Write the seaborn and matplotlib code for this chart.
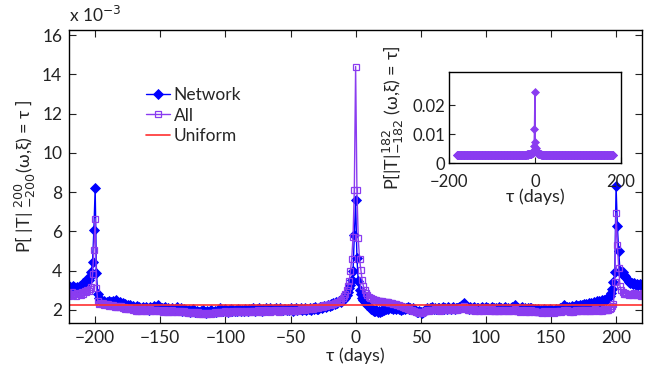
import numpy as np
import pandas as pd
import matplotlib
matplotlib.use("Agg")
import matplotlib.pyplot as plt
import seaborn as sns

# Lag range (days) of the main panel and of the inset
tau_start, tau_end = -222, 222
inset_start, inset_end = -182, 182

# P[|T| = tau] in units of 1e-3, one value per day from tau_start to tau_end
network = [
    3.18, 3.12, 3.22, 3.15, 3.08, 3.20, 3.14, 3.05, 3.18, 3.10,
    3.22, 3.15, 3.28, 3.35, 3.30, 3.42, 3.55, 3.50, 3.68, 3.92,
    4.45, 6.05, 8.20, 3.85, 2.80, 2.62, 2.50, 2.45, 2.38, 2.42,
    2.35, 2.40, 2.32, 2.45, 2.38, 2.30, 2.42, 2.36, 2.48, 2.40,
    2.33, 2.38, 2.28, 2.35, 2.25, 2.30, 2.18, 2.24, 2.15, 2.22,
    2.10, 2.18, 2.05, 2.12, 2.20, 2.08, 2.15, 2.02, 2.10, 2.16,
    2.05, 2.12, 2.08, 2.00, 2.14, 2.06, 2.10, 2.18, 2.03, 2.09,
    2.25, 2.12, 2.04, 2.10, 2.00, 2.08, 2.13, 2.02, 2.07, 1.98,
    2.05, 2.11, 1.99, 2.06, 2.02, 2.12, 1.97, 2.04, 2.08, 1.96,
    2.03, 1.95, 2.00, 1.92, 1.98, 1.90, 1.96, 2.02, 1.93, 1.88,
    1.95, 1.90, 1.86, 1.93, 1.88, 1.97, 1.91, 1.85, 1.94, 1.89,
    1.92, 1.98, 1.90, 1.87, 1.95, 1.91, 2.00, 1.93, 2.08, 1.96,
    1.92, 1.99, 2.05, 1.94, 1.90, 1.97, 2.02, 1.95, 1.99, 1.93,
    2.00, 1.95, 2.04, 1.98, 1.93, 2.01, 1.96, 2.06, 1.99, 1.94,
    2.02, 1.97, 2.05, 2.10, 2.00, 1.95, 2.03, 1.98, 2.07, 2.01,
    1.96, 2.04, 2.00, 2.08, 1.97, 2.03, 2.09, 2.01, 1.98, 2.05,
    2.02, 2.07, 1.99, 2.04, 2.10, 2.01, 1.97, 2.06, 2.03, 1.98,
    2.05, 2.00, 2.08, 2.03, 1.96, 2.04, 2.09, 1.99, 2.05, 2.02,
    2.07, 1.98, 2.04, 2.10, 2.01, 2.06, 2.03, 2.11, 2.00, 2.08,
    2.04, 2.12, 2.06, 2.02, 2.10, 2.15, 2.08, 2.14, 2.20, 2.12,
    2.18, 2.24, 2.20, 2.28, 2.25, 2.32, 2.30, 2.38, 2.35, 2.42,
    2.45, 2.40, 2.50, 2.55, 2.62, 2.75, 2.92, 3.10, 3.28, 3.52,
    3.95, 5.80, 7.60, 4.65, 3.45, 3.00, 2.80, 2.62, 2.50, 2.40,
    2.32, 2.25, 2.20, 2.12, 2.05, 2.00, 1.95, 1.92, 1.98, 1.90,
    1.94, 1.88, 1.96, 2.02, 1.98, 2.05, 2.10, 2.03, 2.15, 2.08,
    2.12, 2.06, 2.10, 2.04, 2.12, 2.02, 2.08, 2.00, 2.06, 2.11,
    2.03, 2.08, 2.14, 2.05, 2.09, 2.02, 2.07, 1.98, 1.94, 1.90,
    1.86, 1.92, 1.88, 1.85, 1.91, 1.96, 2.02, 2.08, 2.04, 2.10,
    2.06, 2.12, 2.03, 2.09, 2.05, 2.11, 2.07, 2.02, 2.08, 2.13,
    2.05, 2.10, 2.04, 2.12, 2.08, 2.03, 2.09, 2.14, 2.06, 2.11,
    2.07, 2.13, 2.10, 2.18, 2.22, 2.32, 2.25, 2.15, 2.10, 2.06,
    2.12, 2.05, 2.09, 2.14, 2.04, 2.10, 2.07, 2.02, 2.08, 2.12,
    2.05, 2.10, 2.15, 2.06, 2.11, 2.04, 2.09, 2.13, 2.07, 2.03,
    2.10, 2.06, 2.12, 2.05, 2.09, 2.03, 2.08, 2.14, 2.06, 2.10,
    2.04, 2.09, 2.15, 2.07, 2.22, 2.11, 2.05, 2.09, 2.03, 2.08,
    2.12, 2.06, 2.10, 2.04, 2.08, 2.02, 2.07, 2.11, 2.05, 2.00,
    2.04, 1.98, 2.02, 1.96, 2.01, 1.95, 1.99, 2.03, 1.97, 1.93,
    1.98, 2.02, 1.95, 2.00, 1.94, 1.99, 2.05, 1.97, 2.02, 2.08,
    2.03, 2.10, 2.22, 2.06, 2.12, 2.08, 2.15, 2.10, 2.18, 2.12,
    2.16, 2.22, 2.14, 2.20, 2.26, 2.18, 2.24, 2.30, 2.22, 2.28,
    2.25, 2.32, 2.28, 2.35, 2.30, 2.38, 2.34, 2.42, 2.38, 2.45,
    2.40, 2.48, 2.45, 2.52, 2.48, 2.58, 2.62, 2.70, 2.85, 3.05,
    3.40, 3.90, 8.30, 6.25, 5.00, 4.00, 3.85, 3.92, 3.78, 3.70,
    3.62, 3.50, 3.42, 3.35, 3.38, 3.30, 3.36, 3.28, 3.33, 3.25,
    3.30, 3.26, 3.32, 3.24, 3.28,
]

all_events = [
    2.78, 2.85, 2.72, 2.80, 2.88, 2.75, 2.82, 2.70, 2.86, 2.78,
    2.84, 2.76, 2.90, 2.82, 2.95, 2.88, 3.00, 2.94, 3.08, 3.15,
    3.80, 5.05, 6.65, 3.10, 2.45, 2.30, 2.35, 2.28, 2.32, 2.25,
    2.30, 2.22, 2.27, 2.20, 2.25, 2.18, 2.23, 2.16, 2.21, 2.14,
    2.19, 2.12, 2.17, 2.08, 2.14, 2.06, 2.11, 2.04, 2.09, 2.02,
    2.06, 1.98, 2.04, 1.96, 2.02, 1.95, 2.00, 1.94, 1.99, 2.03,
    1.96, 2.01, 1.93, 1.98, 2.02, 1.95, 1.99, 1.92, 1.97, 2.00,
    1.94, 1.99, 1.92, 1.96, 1.90, 1.95, 1.98, 1.91, 1.96, 1.89,
    1.94, 1.97, 1.90, 1.95, 1.88, 1.93, 1.96, 1.89, 1.94, 1.87,
    1.92, 1.86, 1.90, 1.84, 1.89, 1.83, 1.88, 1.85, 1.81, 1.86,
    1.82, 1.87, 1.80, 1.84, 1.79, 1.83, 1.78, 1.82, 1.76, 1.81,
    1.84, 1.79, 1.85, 1.81, 1.87, 1.83, 1.89, 1.85, 1.91, 1.87,
    1.90, 1.86, 1.92, 1.88, 1.85, 1.91, 1.87, 1.93, 1.89, 1.86,
    1.92, 1.88, 1.94, 1.90, 1.87, 1.93, 1.89, 1.95, 1.91, 1.88,
    1.94, 1.90, 1.96, 1.92, 1.89, 1.95, 1.91, 1.97, 1.93, 1.90,
    1.95, 1.91, 1.97, 1.93, 1.99, 1.94, 1.90, 1.96, 1.92, 1.98,
    1.94, 2.00, 1.95, 1.91, 1.97, 1.93, 1.99, 1.95, 2.01, 1.96,
    1.92, 1.98, 1.94, 2.00, 1.96, 1.92, 1.98, 1.95, 2.01, 1.97,
    2.03, 1.98, 2.04, 2.00, 2.06, 2.02, 2.08, 2.04, 2.10, 2.06,
    2.12, 2.08, 2.14, 2.10, 2.16, 2.13, 2.19, 2.16, 2.22, 2.20,
    2.25, 2.22, 2.28, 2.26, 2.31, 2.29, 2.35, 2.33, 2.38, 2.37,
    2.45, 2.50, 2.60, 2.70, 2.80, 3.00, 3.20, 3.45, 3.95, 4.60,
    5.70, 8.10, 14.40, 8.10, 5.65, 4.60, 4.05, 3.50, 3.20, 3.00,
    2.85, 2.75, 2.65, 2.62, 2.58, 2.55, 2.52, 2.50, 2.48, 2.46,
    2.44, 2.42, 2.43, 2.40, 2.41, 2.38, 2.39, 2.37, 2.36, 2.34,
    2.35, 2.31, 2.30, 2.27, 2.25, 2.22, 2.20, 2.17, 2.15, 2.12,
    2.10, 2.07, 2.05, 2.02, 2.00, 1.97, 1.95, 1.92, 1.90, 1.88,
    1.86, 1.84, 1.87, 1.85, 1.89, 1.92, 1.95, 1.99, 1.96, 2.00,
    1.97, 2.01, 1.98, 2.02, 1.99, 2.03, 2.00, 1.96, 2.02, 2.05,
    1.98, 2.03, 2.00, 2.04, 2.01, 1.97, 2.02, 2.06, 1.99, 2.03,
    2.00, 2.04, 2.02, 2.08, 2.12, 2.18, 2.10, 2.05, 2.01, 1.98,
    2.02, 1.97, 2.00, 2.04, 1.96, 2.01, 1.98, 1.94, 1.99, 2.02,
    1.96, 2.00, 2.03, 1.97, 2.01, 1.95, 1.99, 2.02, 1.96, 1.93,
    1.98, 1.94, 2.00, 1.95, 1.99, 1.93, 1.97, 2.01, 1.95, 1.98,
    1.93, 1.97, 2.00, 1.94, 2.05, 1.98, 1.92, 1.96, 1.91, 1.95,
    1.99, 1.93, 1.97, 1.91, 1.95, 1.89, 1.94, 1.98, 1.92, 1.88,
    1.92, 1.87, 1.91, 1.86, 1.90, 1.85, 1.89, 1.93, 1.87, 1.84,
    1.88, 1.92, 1.86, 1.90, 1.85, 1.89, 1.94, 1.88, 1.92, 1.96,
    1.91, 1.95, 2.00, 1.93, 1.97, 1.92, 1.96, 1.90, 1.95, 1.91,
    1.94, 1.98, 1.92, 1.96, 2.00, 1.94, 1.97, 2.01, 1.95, 1.99,
    1.96, 2.00, 1.95, 1.99, 1.94, 1.98, 2.02, 1.97, 2.01, 1.96,
    2.00, 1.95, 1.99, 2.03, 1.97, 2.01, 1.98, 2.04, 2.10, 2.18,
    2.30, 3.40, 6.95, 5.30, 4.15, 3.20, 3.00, 2.90, 2.80, 2.85,
    2.78, 2.82, 2.75, 2.80, 2.73, 2.78, 2.85, 2.76, 2.81, 2.74,
    2.79, 2.72, 2.77, 2.83, 2.75,
]

# Uniform reference level (units of 1e-3)
uniform_level = 2.247

# Inset: P[|T| = tau] over -182..182, units of 1e-3
inset_all = [
    2.72, 2.78, 2.70, 2.75, 2.81, 2.73, 2.77, 2.69, 2.74, 2.79,
    2.71, 2.76, 2.80, 2.72, 2.68, 2.75, 2.79, 2.73, 2.70, 2.77,
    2.74, 2.69, 2.76, 2.81, 2.72, 2.75, 2.70, 2.78, 2.73, 2.67,
    2.72, 2.77, 2.71, 2.75, 2.80, 2.74, 2.69, 2.73, 2.78, 2.71,
    2.75, 2.70, 2.76, 2.72, 2.68, 2.74, 2.79, 2.71, 2.66, 2.73,
    2.69, 2.74, 2.67, 2.72, 2.76, 2.70, 2.65, 2.71, 2.75, 2.68,
    2.72, 2.67, 2.73, 2.69, 2.75, 2.70, 2.66, 2.72, 2.68, 2.74,
    2.70, 2.75, 2.69, 2.73, 2.77, 2.71, 2.67, 2.74, 2.70, 2.76,
    2.72, 2.68, 2.74, 2.79, 2.71, 2.75, 2.70, 2.77, 2.73, 2.69,
    2.75, 2.71, 2.77, 2.73, 2.79, 2.74, 2.70, 2.76, 2.72, 2.78,
    2.74, 2.80, 2.75, 2.71, 2.77, 2.73, 2.79, 2.75, 2.81, 2.76,
    2.72, 2.78, 2.74, 2.80, 2.76, 2.73, 2.79, 2.75, 2.82, 2.77,
    2.76, 2.72, 2.78, 2.74, 2.70, 2.77, 2.73, 2.79, 2.75, 2.71,
    2.77, 2.73, 2.79, 2.75, 2.72, 2.78, 2.74, 2.80, 2.76, 2.73,
    2.79, 2.75, 2.81, 2.77, 2.74, 2.80, 2.76, 2.82, 2.78, 2.75,
    2.81, 2.77, 2.83, 2.79, 2.85, 2.81, 2.87, 2.83, 2.89, 2.86,
    2.92, 2.89, 2.95, 2.93, 2.98, 2.96, 3.02, 3.00, 3.06, 3.05,
    3.10, 3.12, 3.18, 3.22, 3.30, 3.38, 3.50, 3.65, 3.90, 4.40,
    5.80, 11.70, 24.50, 7.20, 5.20, 4.40, 3.95, 3.70, 3.50, 3.38,
    3.28, 3.20, 3.15, 3.10, 3.06, 3.02, 2.99, 2.96, 2.94, 2.91,
    2.89, 2.87, 2.85, 2.84, 2.82, 2.83, 2.80, 2.81, 2.78, 2.80,
    2.76, 2.79, 2.74, 2.78, 2.73, 2.77, 2.72, 2.76, 2.71, 2.75,
    2.70, 2.74, 2.78, 2.72, 2.76, 2.71, 2.75, 2.69, 2.73, 2.77,
    2.71, 2.68, 2.74, 2.70, 2.75, 2.72, 2.77, 2.73, 2.69, 2.75,
    2.71, 2.76, 2.72, 2.78, 2.74, 2.70, 2.76, 2.73, 2.79, 2.75,
    2.71, 2.77, 2.73, 2.69, 2.75, 2.80, 2.74, 2.70, 2.76, 2.72,
    2.78, 2.74, 2.80, 2.85, 2.77, 2.73, 2.79, 2.75, 2.71, 2.77,
    2.73, 2.79, 2.74, 2.70, 2.76, 2.72, 2.78, 2.74, 2.69, 2.75,
    2.71, 2.77, 2.73, 2.78, 2.74, 2.70, 2.76, 2.72, 2.77, 2.73,
    2.69, 2.75, 2.71, 2.76, 2.72, 2.68, 2.74, 2.70, 2.75, 2.71,
    2.77, 2.73, 2.78, 2.74, 2.70, 2.75, 2.71, 2.76, 2.72, 2.68,
    2.74, 2.70, 2.75, 2.71, 2.67, 2.73, 2.69, 2.74, 2.70, 2.66,
    2.72, 2.68, 2.73, 2.69, 2.75, 2.71, 2.67, 2.72, 2.68, 2.74,
    2.70, 2.75, 2.71, 2.67, 2.73, 2.69, 2.74, 2.70, 2.76, 2.72,
    2.68, 2.74, 2.70, 2.75, 2.71, 2.77, 2.73, 2.69, 2.75, 2.71,
    2.76, 2.72, 2.78, 2.74, 2.70, 2.76, 2.72, 2.77, 2.73, 2.79,
    2.75, 2.71, 2.77, 2.73, 2.78,
]

main_xticks = [-200, -150, -100, -50, 0, 50, 100, 150, 200]
main_yticks = [2, 4, 6, 8, 10, 12, 14, 16]
inset_xticks = [-200, 0, 200]
inset_yticks = [0, 0.01, 0.02]
inset_ytick_labels = ["0", "0.01", "0.02"]

BLUE = "#0000ff"
PURPLE = "#8a3cf0"
RED = "#ff3030"

sns.set_theme(style="ticks")
plt.rcParams["font.family"] = ["Lato", "DejaVu Sans"]
plt.rcParams["mathtext.fontset"] = "dejavusans"

tau = np.arange(tau_start, tau_end + 1)
main_df = pd.DataFrame({"tau": tau, "network": network, "all": all_events})
inset_tau = np.arange(inset_start, inset_end + 1)
inset_df = pd.DataFrame({"tau": inset_tau, "p": np.array(inset_all) * 1e-3})

fig = plt.figure(figsize=(6.46, 3.69), dpi=100)
ax = fig.add_axes([0.107, 0.125, 0.887, 0.794])

sns.lineplot(data=main_df, x="tau", y="network", ax=ax, color=BLUE,
             linewidth=1.0, marker="D", markersize=4.8, markeredgecolor=BLUE,
             markerfacecolor=BLUE, markeredgewidth=0.6, label="Network")
sns.lineplot(data=main_df, x="tau", y="all", ax=ax, color=PURPLE,
             linewidth=1.0, marker="s", markersize=4.8, markerfacecolor="none",
             markeredgecolor=PURPLE, markeredgewidth=0.9, label="All")
ax.axhline(uniform_level, color=RED, linewidth=1.2, label="Uniform")

ax.set_xlim(-220, 220)
ax.set_ylim(1.33, 16.27)
ax.set_xticks(main_xticks)
ax.set_yticks(main_yticks)
ax.set_xticklabels([f"{t}".replace("-", "\u2212") for t in main_xticks])
ax.tick_params(direction="in", top=True, right=True, length=5, width=0.8,
               labelsize=12.5, colors="#222222", pad=5)
for s in ax.spines.values():
    s.set_linewidth(1.0)
    s.set_color("black")
ax.set_xlabel("τ (days)", fontsize=13, labelpad=1)
ax.set_ylabel("P[ |T| $_{-200}^{200}$(ω,ξ) = τ ]", fontsize=13, labelpad=3)
fig.text(69 / 646, 1 - 15 / 369, "x 10$^{-3}$", fontsize=12.5, ha="left",
         va="center", color="#222222")

leg = ax.legend(loc="upper left", bbox_to_anchor=(0.122, 0.83), frameon=False,
                fontsize=12.5, handlelength=1.4, handletextpad=0.2,
                labelspacing=0.28, borderaxespad=0)

# Inset over the symmetric window
ins = fig.add_axes([0.695, 0.558, 0.266, 0.247])
sns.lineplot(data=inset_df, x="tau", y="p", ax=ins, color=PURPLE,
             linewidth=1.0, marker="D", markersize=4.2, markeredgecolor=PURPLE,
             markerfacecolor=PURPLE, markeredgewidth=0.5)
ins.set_xlim(-200, 200)
ins.set_ylim(0, 0.0315)
ins.set_xticks(inset_xticks)
ins.set_xticklabels([f"{t}".replace("-", "\u2212") for t in inset_xticks])
ins.set_yticks(inset_yticks)
ins.set_yticklabels(inset_ytick_labels)
ins.tick_params(axis="y", direction="in", length=4, width=0.8, labelsize=12,
                colors="#222222", pad=3)
ins.tick_params(axis="x", direction="in", length=4, width=0.8, labelsize=12,
                colors="#222222", pad=8)
for s in ins.spines.values():
    s.set_linewidth(1.0)
    s.set_color("black")
ins.set_xlabel("τ (days)", fontsize=13, labelpad=-1)
ins.set_ylabel("P[|T|$_{-182}^{182}$ (ω,ξ) = τ]", fontsize=13, labelpad=4)

fig.savefig("out.png", dpi=100)
